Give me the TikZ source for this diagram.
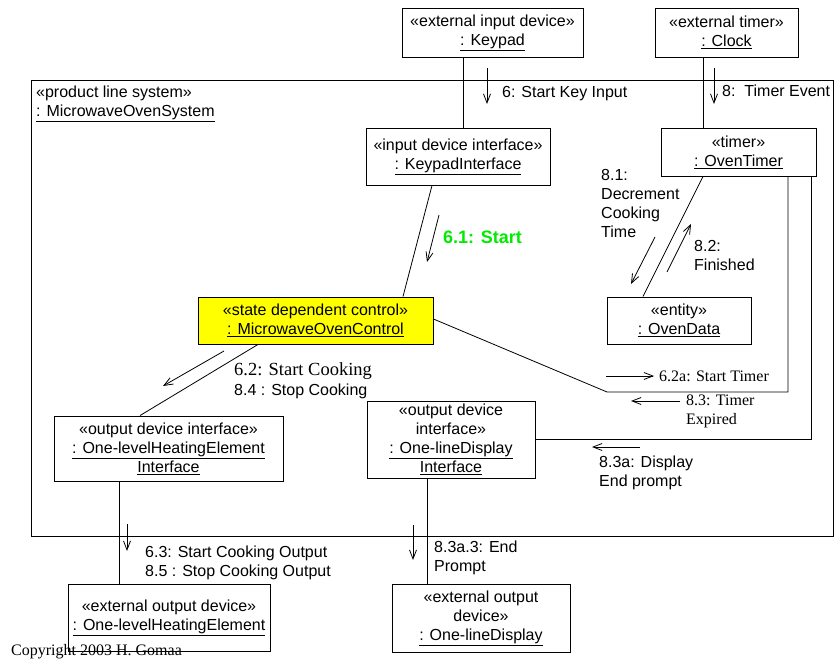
\documentclass[tikz,border=0pt]{standalone}
\usepackage{fontspec}
\setmainfont{Liberation Sans}
\newfontfamily\tnr{Liberation Serif}
\usetikzlibrary{arrows.meta,calc}
\definecolor{limegreen}{RGB}{0,235,0}
\definecolor{ctrlyellow}{RGB}{255,255,0}
\begin{document}
\begin{tikzpicture}[x=1pt,y=-1pt,
  every node/.style={font=\fontsize{16}{19}\selectfont, inner sep=0pt},
  obj/.style={draw, line width=0.9pt, align=center},
  lbl/.style={anchor=west, align=left},
  msg/.style={line width=0.8pt, -{Straight Barb[length=9pt,width=7pt]}},
  link/.style={line width=0.8pt},
  serif/.style={font=\tnr\fontsize{16}{19}\selectfont}]
\useasboundingbox (0,0) rectangle (835,660);

% system boundary
\node[draw, line width=0.9pt, minimum width=802.5, minimum height=456, anchor=north west] (sys) at (30.5,80) {};
\node[lbl, anchor=north west] (syslbl) at (36,86) {«product line system»\\\underline{: MicrowaveOvenSystem}};

% objects
\node[obj, minimum width=181, minimum height=49] (keypad) at (492.5,32.5) {«external input device»\\\underline{: Keypad}};
\node[obj, minimum width=143, minimum height=49] (clock) at (726.5,32.5) {«external timer»\\\underline{: Clock}};
\node[obj, minimum width=184, minimum height=57] (kpi) at (458,156.5) {«input device interface»\\\underline{: KeypadInterface}};
\node[obj, minimum width=155, minimum height=48] (timer) at (738.5,152) {«timer»\\\underline{: OvenTimer}};
\node[obj, minimum width=144, minimum height=47] (ovendata) at (679,320.5) {«entity»\\\underline{: OvenData}};
\node[obj, fill=ctrlyellow, minimum width=235, minimum height=47] (control) at (315.5,320.5) {«state dependent control»\\\underline{: MicrowaveOvenControl}};
\node[obj, minimum width=229, minimum height=65] (heatif) at (168.5,448.5) {«output device interface»\\\underline{: One-levelHeatingElement}\\\underline{Interface}};
\node[obj, minimum width=168, minimum height=77] (dispif) at (451,439.5) {«output device\\interface»\\\underline{: One-lineDisplay}\\\underline{Interface}};
\node[obj, minimum width=202, minimum height=67] (heat) at (169,617.5) {«external output device»\\\underline{: One-levelHeatingElement}};
\node[obj, minimum width=178, minimum height=68] (disp) at (481,618) {«external output\\device»\\\underline{: One-lineDisplay}};

% links
\draw[link] (keypad.south -| 463,0) -- (kpi.north -| 463,0);
\draw[link] (clock.south -| 703,0) -- (timer.north -| 703,0);
\draw[link] (kpi.south -| 432,0) -- (control.north -| 403,0);
\draw[link] (timer.south -| 703,0) -- (ovendata.north -| 643,0);
\draw[link] (timer.south -| 788,0) |- (607,392) -- ([yshift=1.5]control.east);
\draw[link] (timer.south -| 811,0) |- (dispif.east);
\draw[link] (control.south -| 258,0) -- (heatif.north -| 140,0);
\draw[link] (heatif.south -| 119,0) -- (heat.north -| 119,0);
\draw[link] (dispif.south -| 427,0) -- (disp.north -| 427,0);

% messages
\draw[msg] (487,68) -- (487,104);
\node[lbl] (m6) at (502,94) {6: Start Key Input};
\draw[msg] (714,68) -- (714,104);
\node[lbl] (m8) at (722,91) {8:\ \ Timer Event};
\draw[msg] (439,215) -- (427,262);
\node[lbl, font=\bfseries\fontsize{18}{20}\selectfont, text=limegreen] (m61) at (443,237) {6.1: Start};
\draw[msg] (655,237) -- (631,284);
\node[lbl] (m81) at (601,203) {8.1:\\Decrement\\Cooking\\Time};
\draw[msg] (667,272) -- (691,224);
\node[lbl] (m82) at (694,255.5) {8.2:\\Finished};
\draw[msg] (224,351) -- (163,386);
\node[lbl, font=\tnr\fontsize{18.5}{20}\selectfont] (m62) at (234,371) {6.2: Start Cooking};
\node[lbl] (m84) at (234,391) {8.4 : Stop Cooking};
\draw[msg] (606,376) -- (654,376);
\node[lbl, serif] (m62a) at (659,376) {6.2a: Start Timer};
\draw[msg] (680,401) -- (631,401);
\node[lbl, serif] (m83) at (686,411.5) {8.3: Timer\\Expired};
\draw[msg] (640,447) -- (592,447);
\node[lbl] (m83a) at (599,472.5) {8.3a: Display\\End prompt};
\draw[msg] (127,524) -- (127,551);
\node[lbl] (m63) at (145,562.5) {6.3: Start Cooking Output\\8.5 : Stop Cooking Output};
\draw[msg] (413,525) -- (413,560);
\node[lbl] (m83a3) at (434,557.5) {8.3a.3: End\\Prompt};

\node[serif, anchor=base west] (copy) at (11,655.5) {Copyright 2003 H. Gomaa};
\end{tikzpicture}
\end{document}
